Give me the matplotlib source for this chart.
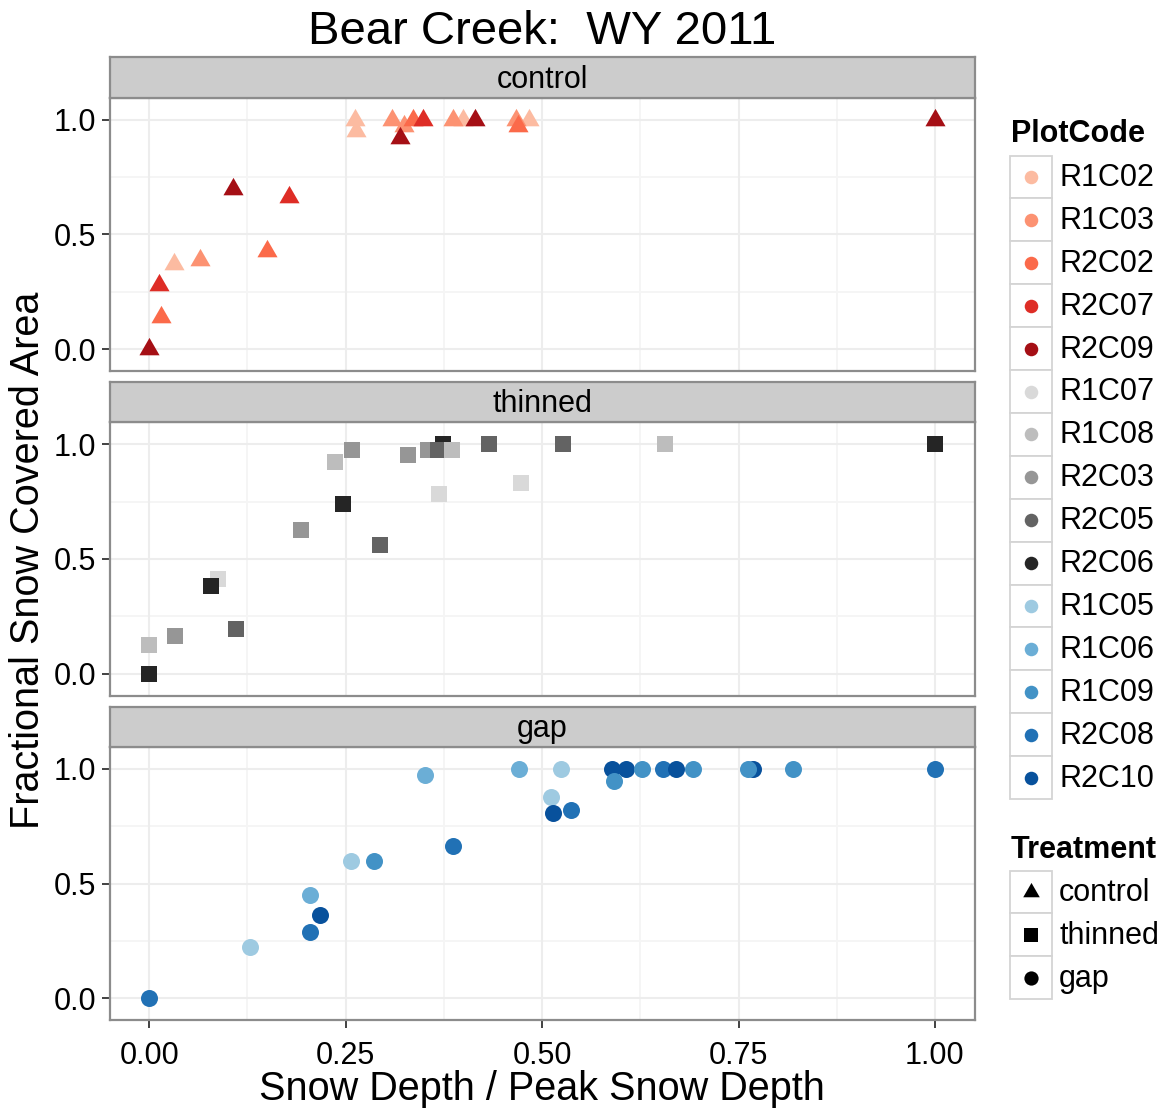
import numpy as np
import matplotlib
matplotlib.use('Agg')
import matplotlib.pyplot as plt
from matplotlib.patches import Rectangle

plt.rcParams['font.family'] = ['Liberation Sans', 'DejaVu Sans']

# ---- data (x = snow depth / peak, y = fractional SCA)
# control plots
R1C02_x = [0.031, 0.262, 0.263, 0.399, 0.483]
R1C02_y = [0.37, 1.0, 0.95, 1.0, 1.0]
R1C03_x = [0.065, 0.309, 0.324, 0.386, 0.467]
R1C03_y = [0.39, 1.0, 0.975, 1.0, 1.0]
R2C02_x = [0.015, 0.150, 0.336, 0.469]
R2C02_y = [0.14, 0.43, 1.0, 0.975]
R2C07_x = [0.013, 0.178, 0.348]
R2C07_y = [0.28, 0.665, 1.0]
R2C09_x = [0.0, 0.106, 0.319, 0.414, 1.0]
R2C09_y = [0.0, 0.70, 0.923, 1.0, 1.0]
# thinned plots
R1C07_x = [0.087, 0.369, 0.473]
R1C07_y = [0.415, 0.782, 0.83]
R1C08_x = [0.0, 0.237, 0.385, 0.656]
R1C08_y = [0.128, 0.923, 0.975, 1.0]
R2C03_x = [0.033, 0.193, 0.258, 0.329, 0.355]
R2C03_y = [0.163, 0.627, 0.975, 0.954, 0.975]
R2C05_x = [0.111, 0.294, 0.368, 0.433, 0.527]
R2C05_y = [0.195, 0.56, 0.975, 1.0, 1.0]
R2C06_x = [0.0, 0.078, 0.246, 0.374, 1.0]
R2C06_y = [0.0, 0.381, 0.738, 1.0, 1.0]
# gap plots
R1C05_x = [0.1285, 0.257, 0.511, 0.524]
R1C05_y = [0.224, 0.600, 0.876, 1.0]
R1C06_x = [0.204, 0.351, 0.470]
R1C06_y = [0.450, 0.974, 1.0]
R1C09_x = [0.286, 0.592, 0.627, 0.692, 0.762, 0.819]
R1C09_y = [0.600, 0.948, 1.0, 1.0, 1.0, 1.0]
R2C08_x = [0.0, 0.205, 0.387, 0.537, 0.654, 1.0]
R2C08_y = [0.0, 0.287, 0.665, 0.821, 1.0, 1.0]
R2C10_x = [0.217, 0.514, 0.589, 0.607, 0.670, 0.769]
R2C10_y = [0.362, 0.807, 1.0, 1.0, 1.0, 1.0]

treatments = ['control', 'thinned', 'gap']
plot_codes = {
    'control': ['R1C02', 'R1C03', 'R2C02', 'R2C07', 'R2C09'],
    'thinned': ['R1C07', 'R1C08', 'R2C03', 'R2C05', 'R2C06'],
    'gap': ['R1C05', 'R1C06', 'R1C09', 'R2C08', 'R2C10'],
}
# order in which the points are drawn (back to front)
draw_order = {
    'control': ['R1C02', 'R1C03', 'R2C02', 'R2C07', 'R2C09'],
    'thinned': ['R1C07', 'R2C06', 'R2C03', 'R2C05', 'R1C08'],
    'gap': ['R1C05', 'R1C06', 'R2C08', 'R2C10', 'R1C09'],
}
data = {
    'R1C02': (R1C02_x, R1C02_y), 'R1C03': (R1C03_x, R1C03_y),
    'R2C02': (R2C02_x, R2C02_y), 'R2C07': (R2C07_x, R2C07_y),
    'R2C09': (R2C09_x, R2C09_y),
    'R1C07': (R1C07_x, R1C07_y), 'R1C08': (R1C08_x, R1C08_y),
    'R2C03': (R2C03_x, R2C03_y), 'R2C05': (R2C05_x, R2C05_y),
    'R2C06': (R2C06_x, R2C06_y),
    'R1C05': (R1C05_x, R1C05_y), 'R1C06': (R1C06_x, R1C06_y),
    'R1C09': (R1C09_x, R1C09_y), 'R2C08': (R2C08_x, R2C08_y),
    'R2C10': (R2C10_x, R2C10_y),
}
colors = {
    'R1C02': '#fcbba1', 'R1C03': '#fc9272', 'R2C02': '#fb6a4a',
    'R2C07': '#de2d26', 'R2C09': '#a50f15',
    'R1C07': '#d9d9d9', 'R1C08': '#bdbdbd', 'R2C03': '#969696',
    'R2C05': '#636363', 'R2C06': '#252525',
    'R1C05': '#9ecae1', 'R1C06': '#6baed6', 'R1C09': '#4292c6',
    'R2C08': '#2171b5', 'R2C10': '#08519c',
}

# equilateral triangle centred on its centroid
tri = [(0, 1), (-0.866, -0.5), (0.866, -0.5)]
markers = {'control': tri, 'thinned': 's', 'gap': 'o'}
msize = {'control': 280, 'thinned': 132, 'gap': 150}

W, H = 1167, 1110
fig = plt.figure(figsize=(W / 100, H / 100), dpi=100)


def px_axes(x0, y0, x1, y1):
    return fig.add_axes([x0 / W, 1 - y1 / H, (x1 - x0) / W, (y1 - y0) / H])


panel_px = [(57, 98, 371), (382, 422, 696), (707, 747, 1020)]
left, right = 110, 975
border = '#8c8c8c'

for i, (tr, (s_top, p_top, p_bot)) in enumerate(zip(treatments, panel_px)):
    ax = px_axes(left, p_top, right, p_bot)
    ax.set_xlim(-0.05, 1.051)
    ax.set_ylim(-0.096, 1.096)
    for v in [0.125, 0.375, 0.625, 0.875]:
        ax.axvline(v, color='#f5f5f5', lw=1.3, zorder=0)
    for v in [0.25, 0.75]:
        ax.axhline(v, color='#f5f5f5', lw=1.3, zorder=0)
    for v in [0, 0.25, 0.5, 0.75, 1.0]:
        ax.axvline(v, color='#ededed', lw=1.5, zorder=0)
    for v in [0, 0.5, 1.0]:
        ax.axhline(v, color='#ededed', lw=1.5, zorder=0)
    for code in draw_order[tr]:
        x, y = data[code]
        ax.scatter(x, y, s=msize[tr], marker=markers[tr], c=colors[code],
                   linewidths=0, zorder=3)
    ax.set_yticks([0, 0.5, 1.0])
    ax.set_yticklabels(['0.0', '0.5', '1.0'])
    ax.set_xticks([0, 0.25, 0.5, 0.75, 1.0])
    if i < 2:
        ax.tick_params(axis='x', bottom=False, labelbottom=False)
    else:
        ax.set_xticklabels(['0.00', '0.25', '0.50', '0.75', '1.00'])
    ax.tick_params(labelsize=22, length=6, width=1.3, color='#333333',
                   pad=4, labelcolor='black')
    ax.tick_params(axis='x', pad=9)
    for sp in ax.spines.values():
        sp.set_color(border)
        sp.set_linewidth(1.6)

    # facet strip
    sax = px_axes(left, s_top, right, p_top)
    sax.set_facecolor('#cccccc')
    sax.set_xticks([])
    sax.set_yticks([])
    for sp in sax.spines.values():
        sp.set_color(border)
        sp.set_linewidth(1.6)
    sax.text(0.5, 0.45, tr, ha='center', va='center', fontsize=22,
             transform=sax.transAxes)

fig.text(542 / W, 1 - 32 / H, 'Bear Creek:  WY 2011', ha='center',
         va='center', fontsize=34)
fig.text(542 / W, 1 - 1089 / H, 'Snow Depth / Peak Snow Depth',
         ha='center', va='center', fontsize=28.5)
fig.text(28 / W, 1 - 560 / H, 'Fractional Snow Covered Area', ha='center',
         va='center', rotation=90, fontsize=28.5)

# ---- legends drawn in pixel coordinates
lg = fig.add_axes([0, 0, 1, 1], facecolor='none')
lg.set_xlim(0, W)
lg.set_ylim(H, 0)
lg.axis('off')

key_x0, key_w, row_h = 1010, 42, 42.9
lg.text(1011, 134, 'PlotCode', fontsize=22, fontweight='bold',
        ha='left', va='center')
all_codes = plot_codes['control'] + plot_codes['thinned'] + plot_codes['gap']
for j, code in enumerate(all_codes):
    yc = 177 + row_h * j
    lg.add_patch(Rectangle((key_x0, yc - row_h / 2), key_w, row_h,
                           facecolor='white', edgecolor='#d4d4d4', lw=1.3))
    lg.scatter([key_x0 + key_w / 2], [yc], s=95, marker='o',
               c=colors[code], linewidths=0, zorder=3)
    lg.text(1059, yc + 1, code, fontsize=22, ha='left', va='center')

lg.text(1011, 850, 'Treatment', fontsize=22, fontweight='bold',
        ha='left', va='center')
leg_size = {'control': 190, 'thinned': 95, 'gap': 105}
for j, tr in enumerate(treatments):
    yc = 892 + row_h * j
    lg.add_patch(Rectangle((key_x0, yc - row_h / 2), key_w, row_h,
                           facecolor='white', edgecolor='#d4d4d4', lw=1.3))
    lg.scatter([key_x0 + key_w / 2], [yc], s=leg_size[tr],
               marker=markers[tr], c='black', linewidths=0, zorder=3)
    lg.text(1059, yc + 1, tr, fontsize=22, ha='left', va='center')

fig.savefig('out.png', dpi=100, facecolor='white')
